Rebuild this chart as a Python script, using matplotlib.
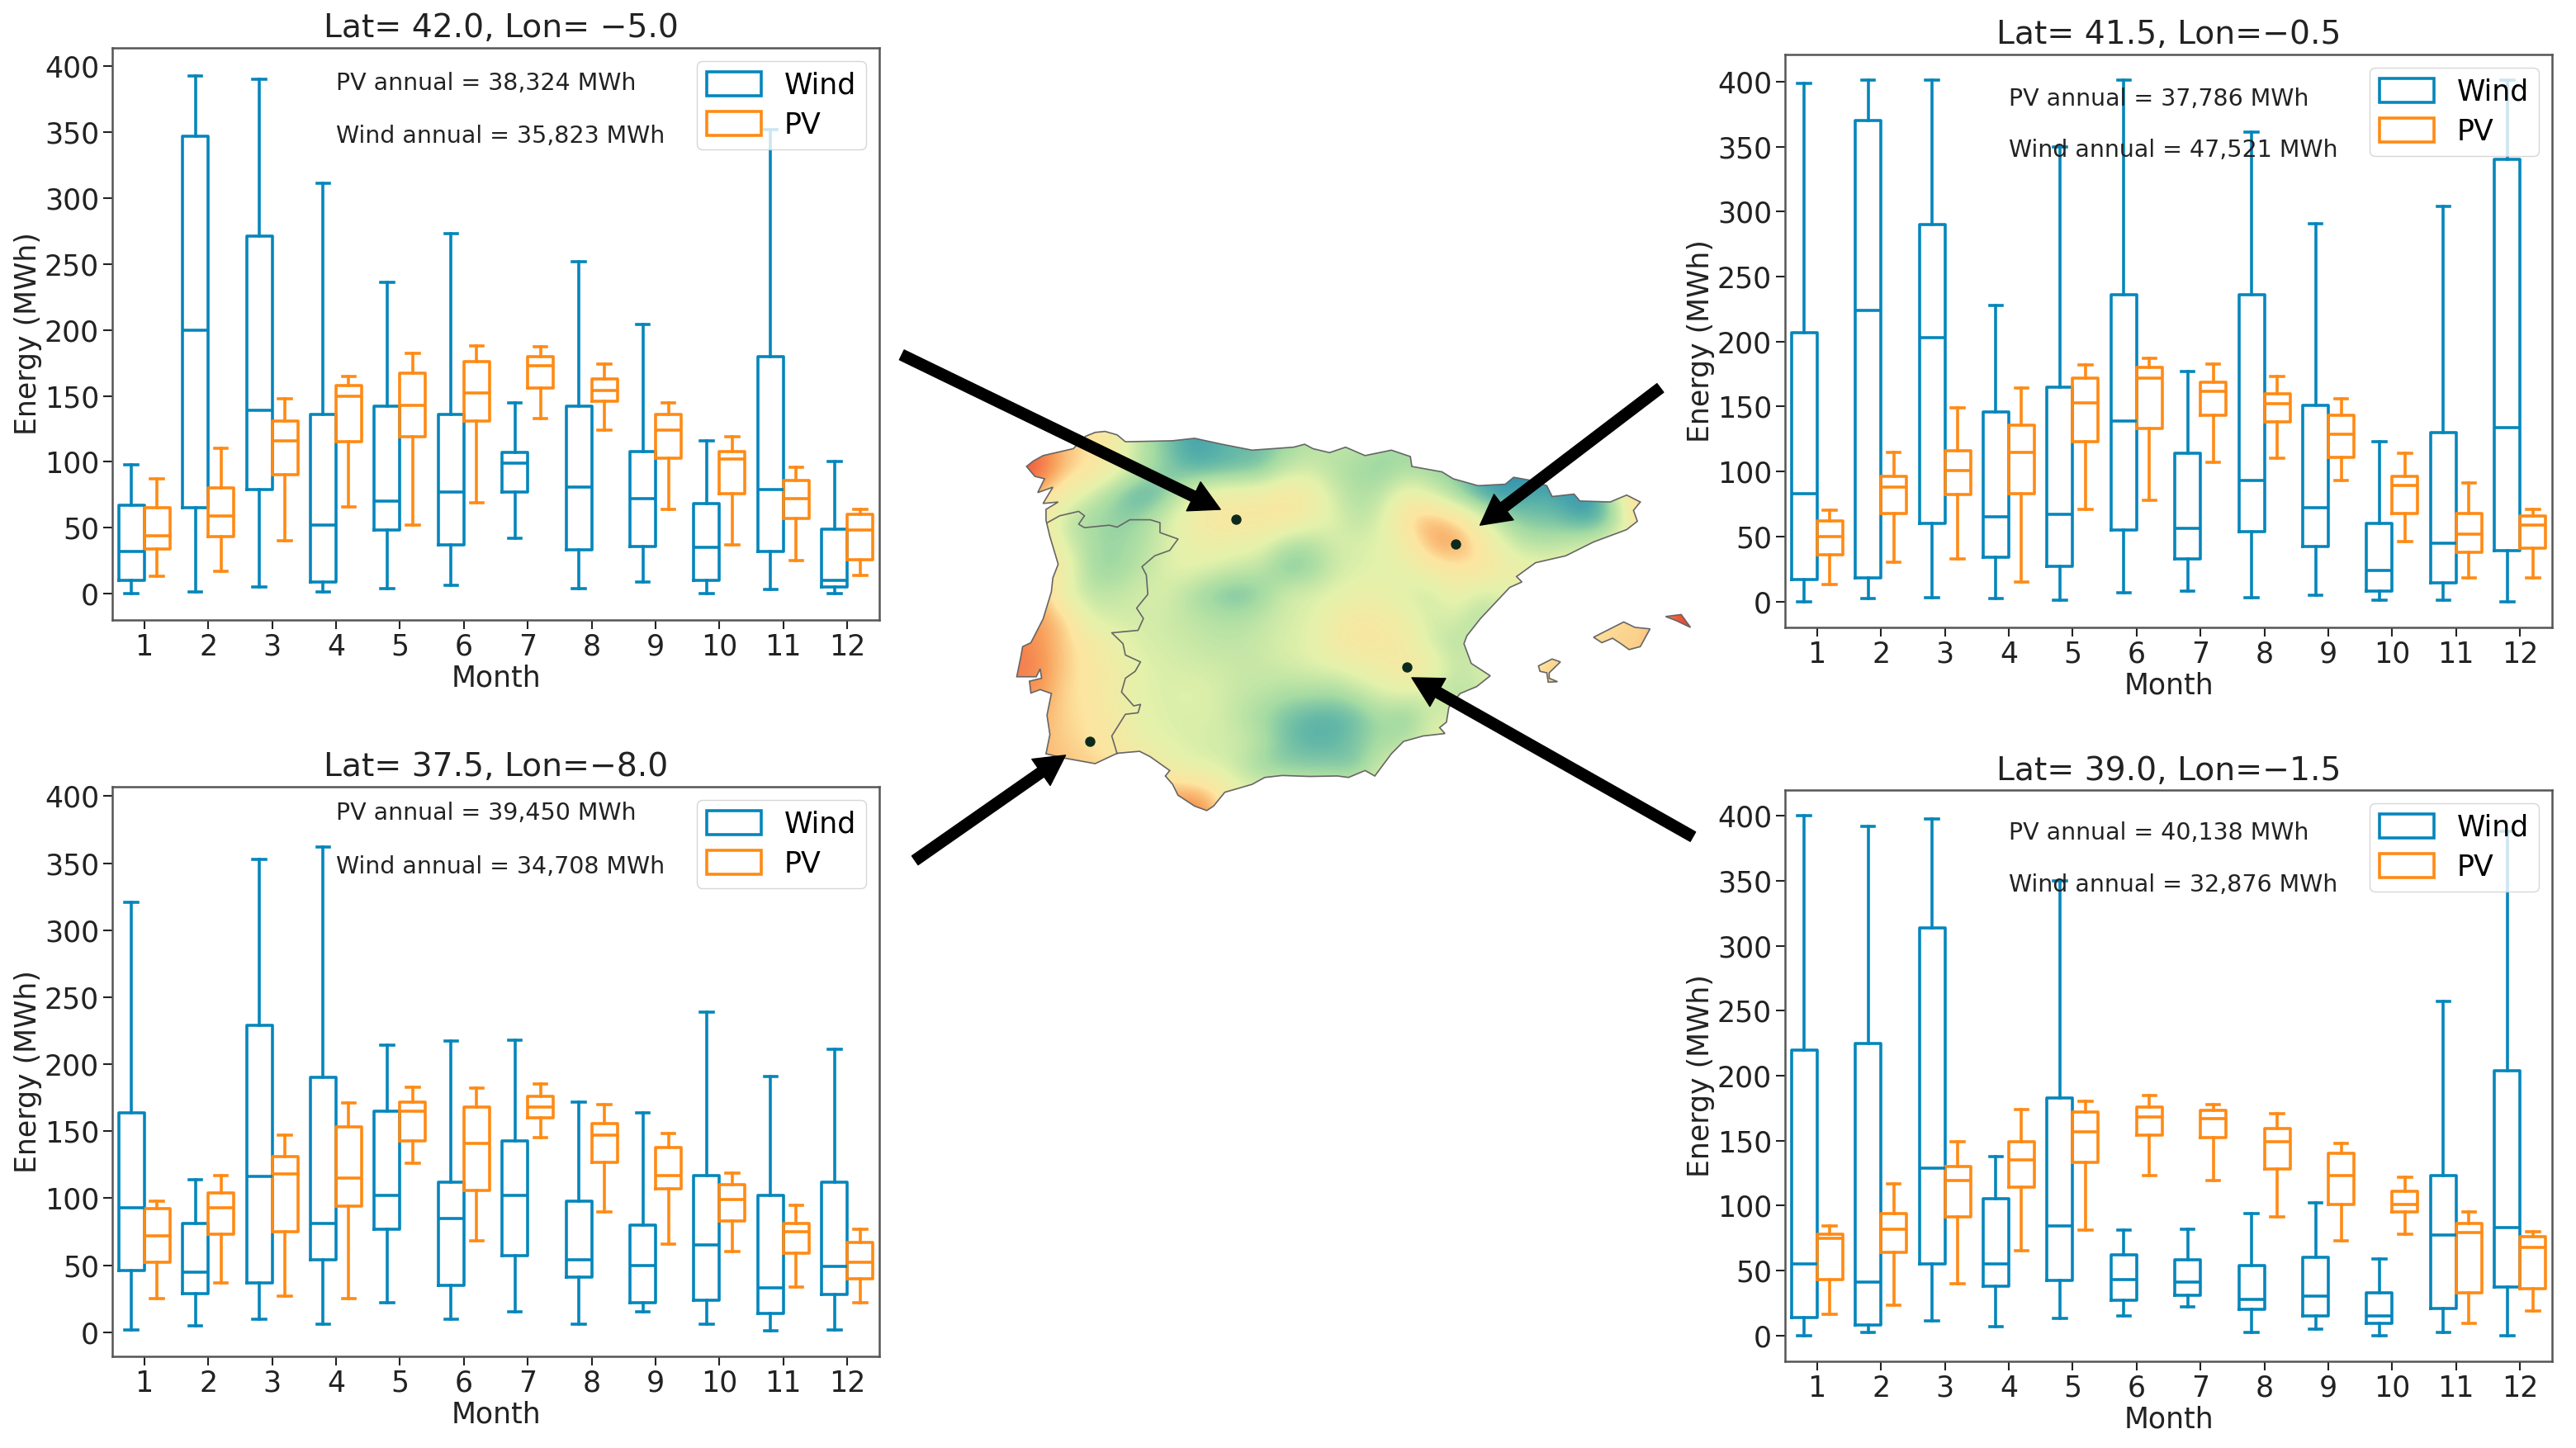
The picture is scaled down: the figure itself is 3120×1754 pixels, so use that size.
import matplotlib
matplotlib.use('Agg')
import matplotlib.pyplot as plt
import numpy as np
from matplotlib.colors import LinearSegmentedColormap
from matplotlib.path import Path
from matplotlib.patches import PathPatch, Patch

months = [1, 2, 3, 4, 5, 6, 7, 8, 9, 10, 11, 12]

# each row: low whisker, q1, median, q3, high whisker (MWh)
wind_nw = [[0, 10, 32, 67, 98], [1, 65, 200, 347, 393], [5, 79, 139, 271, 390], [1, 9, 52, 136, 311],
           [4, 48, 70, 142, 236], [6, 37, 77, 136, 273], [42, 77, 99, 107, 145], [4, 33, 81, 142, 252],
           [9, 36, 72, 108, 204], [0, 10, 35, 68, 116], [3, 32, 79, 180, 352], [0, 5, 10, 49, 100]]
pv_nw = [[13, 34, 44, 65, 87], [17, 43, 59, 80, 110], [40, 90, 116, 131, 148], [66, 115, 150, 158, 165],
         [52, 119, 143, 167, 182], [69, 131, 152, 176, 188], [133, 156, 173, 180, 187], [124, 146, 154, 163, 174],
         [64, 103, 124, 136, 145], [37, 76, 102, 108, 119], [25, 57, 72, 86, 96], [14, 26, 48, 60, 64]]

wind_ne = [[0, 17, 83, 207, 399], [2, 18, 224, 370, 401], [3, 60, 203, 290, 401], [2, 34, 65, 146, 228],
           [1, 27, 67, 165, 350], [7, 55, 139, 236, 401], [8, 33, 56, 114, 177], [3, 54, 93, 236, 361],
           [5, 42, 72, 151, 291], [1, 8, 24, 60, 123], [1, 14, 45, 130, 304], [0, 39, 134, 340, 401]]
pv_ne = [[13, 36, 50, 62, 70], [30, 68, 88, 96, 115], [33, 82, 101, 116, 149], [15, 83, 115, 136, 164],
         [71, 123, 153, 172, 182], [78, 133, 172, 180, 187], [107, 143, 162, 169, 183], [110, 138, 152, 160, 173],
         [93, 111, 129, 143, 156], [46, 68, 89, 96, 114], [18, 38, 52, 68, 91], [18, 41, 59, 66, 71]]

wind_sw = [[2, 46, 93, 164, 321], [5, 29, 45, 81, 114], [10, 37, 116, 229, 353], [6, 54, 81, 190, 362],
           [22, 77, 102, 165, 214], [10, 35, 85, 112, 217], [15, 57, 102, 143, 218], [6, 41, 54, 98, 172],
           [15, 22, 50, 80, 164], [6, 24, 65, 117, 239], [1, 14, 33, 102, 191], [2, 28, 49, 112, 211]]
pv_sw = [[25, 52, 72, 92, 98], [37, 73, 93, 104, 117], [27, 75, 118, 131, 147], [25, 94, 115, 153, 171],
         [126, 143, 165, 172, 183], [68, 106, 141, 168, 182], [145, 160, 168, 176, 185], [90, 127, 147, 156, 170],
         [66, 107, 117, 138, 148], [60, 83, 99, 110, 119], [34, 59, 75, 81, 95], [22, 40, 52, 67, 77]]

wind_se = [[0, 14, 55, 220, 400], [2, 8, 41, 225, 392], [11, 55, 129, 314, 398], [7, 38, 55, 105, 138],
           [13, 42, 84, 183, 350], [15, 27, 43, 62, 81], [22, 31, 41, 58, 82], [2, 20, 28, 54, 94],
           [5, 15, 30, 60, 102], [0, 9, 15, 33, 59], [2, 21, 77, 123, 257], [0, 37, 83, 204, 388]]
pv_se = [[16, 43, 75, 78, 84], [23, 64, 82, 94, 117], [40, 91, 119, 130, 149], [65, 114, 135, 149, 174],
         [81, 133, 157, 172, 180], [123, 154, 168, 176, 185], [119, 152, 167, 173, 178], [91, 128, 149, 159, 171],
         [73, 101, 123, 140, 148], [78, 95, 101, 111, 122], [9, 33, 79, 86, 95], [19, 36, 68, 76, 80]]

titles = ['Lat= 42.0, Lon= \u22125.0', 'Lat= 41.5, Lon=\u22120.5', 'Lat= 37.5, Lon=\u22128.0', 'Lat= 39.0, Lon=\u22121.5']
pv_notes = ['PV annual = 38,324 MWh', 'PV annual = 37,786 MWh', 'PV annual = 39,450 MWh', 'PV annual = 40,138 MWh']
wind_notes = ['Wind annual = 35,823 MWh', 'Wind annual = 47,521 MWh', 'Wind annual = 34,708 MWh', 'Wind annual = 32,876 MWh']

# map data: colour field, 0.5 degree steps (0-100 on the colour scale below)
field_lons = np.arange(-10, 5, 0.5)
field_lats = np.arange(44, 35.5, -0.5)
field = [
    [18, 18, 24, 36, 42, 48, 66, 75, 86, 84, 78, 78, 72, 68, 66, 66, 70, 72, 74, 80, 86, 90, 90, 90, 86, 84, 50, 30, 15, 13],
    [18, 18, 24, 36, 42, 48, 66, 76, 85, 84, 80, 80, 74, 68, 66, 66, 70, 72, 74, 80, 86, 90, 90, 90, 86, 84, 50, 30, 15, 13],
    [14, 14, 18, 36, 42, 52, 66, 74, 82, 82, 80, 78, 66, 62, 68, 72, 76, 70, 72, 76, 82, 88, 90, 90, 86, 84, 50, 30, 15, 13],
    [20, 20, 38, 50, 62, 74, 84, 80, 60, 52, 50, 50, 44, 48, 62, 70, 66, 52, 60, 72, 85, 88, 84, 84, 88, 84, 48, 26, 15, 13],
    [30, 30, 46, 66, 72, 75, 74, 62, 52, 44, 44, 44, 44, 52, 58, 68, 60, 40, 32, 40, 54, 72, 78, 78, 85, 84, 62, 28, 15, 13],
    [30, 30, 44, 60, 70, 74, 70, 62, 56, 52, 54, 56, 68, 70, 62, 60, 58, 50, 32, 28, 42, 58, 68, 68, 64, 60, 50, 40, 15, 13],
    [28, 28, 36, 50, 72, 74, 68, 60, 56, 60, 64, 66, 78, 76, 64, 60, 58, 56, 48, 44, 42, 50, 54, 54, 54, 50, 45, 40, 15, 13],
    [28, 28, 34, 58, 66, 66, 62, 60, 68, 76, 80, 76, 62, 60, 58, 54, 56, 60, 64, 52, 62, 60, 54, 50, 46, 42, 42, 42, 15, 13],
    [24, 24, 30, 38, 60, 62, 62, 62, 66, 68, 70, 66, 62, 60, 52, 46, 48, 52, 62, 60, 70, 62, 54, 46, 42, 42, 40, 40, 15, 13],
    [24, 24, 28, 38, 46, 54, 60, 62, 63, 66, 66, 64, 60, 58, 48, 44, 46, 48, 62, 68, 64, 56, 46, 42, 42, 40, 38, 38, 15, 13],
    [22, 22, 26, 38, 44, 50, 58, 60, 62, 62, 64, 64, 62, 60, 58, 54, 50, 46, 50, 64, 62, 56, 44, 38, 38, 38, 38, 38, 38, 38],
    [26, 26, 28, 40, 44, 50, 58, 60, 58, 60, 64, 66, 70, 70, 72, 66, 60, 56, 62, 70, 64, 56, 44, 36, 36, 36, 36, 36, 36, 36],
    [30, 30, 32, 40, 42, 48, 56, 60, 60, 60, 66, 72, 78, 82, 82, 80, 70, 78, 62, 60, 60, 56, 44, 36, 36, 36, 36, 36, 36, 36],
    [32, 32, 34, 38, 42, 46, 54, 58, 60, 62, 62, 68, 78, 82, 82, 76, 72, 68, 58, 56, 56, 56, 44, 36, 36, 36, 36, 36, 36, 36],
    [34, 34, 34, 36, 38, 40, 44, 50, 58, 60, 64, 74, 76, 76, 76, 78, 62, 58, 56, 56, 56, 56, 44, 36, 36, 36, 36, 36, 36, 36],
    [34, 34, 34, 36, 38, 38, 36, 36, 32, 38, 56, 58, 60, 62, 62, 60, 58, 56, 56, 56, 56, 56, 44, 36, 36, 36, 36, 36, 36, 36],
    [34, 34, 34, 36, 38, 38, 34, 30, 20, 30, 50, 56, 60, 62, 62, 60, 58, 56, 56, 56, 56, 56, 44, 36, 36, 36, 36, 36, 36, 36],
]

# outlines in lon, lat
iberia = [(-9.30, 43.07), (-9.16, 43.18), (-8.96, 43.29), (-8.34, 43.43), (-8.09, 43.68), (-7.89, 43.76), (-7.69, 43.78),
          (-7.44, 43.71), (-7.27, 43.57), (-6.31, 43.59), (-5.85, 43.64), (-5.29, 43.52), (-4.67, 43.40), (-3.82, 43.46),
          (-3.59, 43.52), (-3.42, 43.43), (-3.08, 43.35), (-2.75, 43.46), (-2.35, 43.29), (-1.81, 43.40), (-1.42, 43.27),
          (-1.39, 43.07), (-0.77, 42.96), (-0.54, 42.82), (-0.03, 42.68), (0.53, 42.71), (0.70, 42.85), (1.04, 42.79),
          (1.38, 42.68), (1.49, 42.46), (1.94, 42.51), (2.06, 42.37), (2.68, 42.35), (3.02, 42.49), (3.30, 42.35),
          (3.16, 42.18), (3.24, 41.96), (3.02, 41.79), (2.34, 41.54), (1.77, 41.26), (1.15, 41.12), (0.76, 40.84),
          (0.87, 40.73), (0.62, 40.62), (0.02, 39.99), (-0.26, 39.64), (-0.32, 39.48), (-0.17, 39.08), (0.22, 38.83),
          (-0.06, 38.61), (-0.40, 38.47), (-0.63, 38.19), (-0.68, 37.89), (-0.82, 37.78), (-0.71, 37.66), (-1.16, 37.61),
          (-1.56, 37.50), (-1.81, 37.25), (-2.15, 36.80), (-2.35, 36.91), (-2.69, 36.77), (-2.92, 36.80), (-3.48, 36.79),
          (-4.05, 36.81), (-4.41, 36.77), (-4.67, 36.63), (-5.23, 36.47), (-5.46, 36.19), (-5.60, 36.10), (-5.85, 36.19),
          (-6.19, 36.41), (-6.30, 36.63), (-6.45, 36.80), (-6.36, 36.91), (-6.76, 37.19), (-6.98, 37.30), (-7.44, 37.26),
          (-7.89, 37.05), (-8.51, 37.16), (-8.90, 37.25), (-8.82, 37.64), (-8.88, 38.03), (-8.79, 38.47), (-9.02, 38.55),
          (-9.21, 38.48), (-9.24, 38.72), (-8.99, 38.78), (-9.02, 38.97), (-9.10, 38.81), (-9.50, 38.81), (-9.41, 39.25),
          (-9.38, 39.42), (-9.21, 39.50), (-8.96, 39.98), (-8.79, 40.53), (-8.76, 40.81), (-8.65, 41.09), (-8.82, 41.65),
          (-8.90, 41.98), (-8.90, 42.20), (-8.65, 42.35), (-8.96, 42.32), (-8.76, 42.65), (-9.07, 42.54), (-8.93, 42.82),
          (-9.13, 42.87)]
mallorca = [(2.34, 39.61), (2.96, 39.92), (3.19, 39.81), (3.50, 39.78), (3.30, 39.42), (3.07, 39.36), (2.90, 39.48),
            (2.73, 39.59), (2.51, 39.50)]
menorca = [(3.82, 40.03), (4.14, 40.07), (4.33, 39.81), (4.03, 39.95)]
ibiza = [(1.21, 39.03), (1.49, 39.17), (1.66, 39.11), (1.43, 38.89), (1.43, 38.78), (1.60, 38.71), (1.41, 38.70),
         (1.38, 38.89), (1.24, 38.92)]
border = [(-8.875, 41.93), (-8.62, 42.07), (-8.23, 42.16), (-8.11, 42.07), (-8.23, 41.90), (-8.11, 41.83), (-7.60, 41.88),
          (-7.44, 41.84), (-7.18, 41.99), (-6.76, 41.99), (-6.56, 41.93), (-6.56, 41.73), (-6.19, 41.60), (-6.36, 41.37),
          (-6.67, 41.26), (-6.93, 41.04), (-6.84, 40.87), (-6.81, 40.48), (-7.04, 40.20), (-6.90, 39.99), (-7.01, 39.75),
          (-7.55, 39.70), (-7.32, 39.48), (-7.27, 39.25), (-6.96, 39.11), (-7.07, 38.92), (-7.27, 38.78), (-7.35, 38.50),
          (-7.10, 38.22), (-6.96, 38.25), (-7.01, 38.08), (-7.27, 38.05), (-7.55, 37.61), (-7.44, 37.25)]

site_lons = [-5.0, -0.5, -8.0, -1.5]
site_lats = [42.0, 41.5, 37.5, 39.0]
# arrows: (tail lon, tail lat, tip lon, tip lat)
arrows = [(-11.86, 45.33, -5.32, 42.2), (3.71, 44.66, 0.01, 41.88), (-11.59, 35.09, -8.5, 37.22), (4.38, 35.57, -1.39, 38.79)]

fig_w, fig_h = 3120, 1754
wind_color = '#0586bb'
pv_color = '#ff8a14'
dark = '#222222'
# like Spectral but without the white band in the middle
map_cmap = LinearSegmentedColormap.from_list('iberia', [(0, '#c81e28'), (0.13, '#e8432e'), (0.22, '#f4774a'), (0.3, '#f8a25c'),
                                                        (0.42, '#fde5a0'), (0.58, '#e4f2ab'), (0.72, '#a5dba3'),
                                                        (0.82, '#5bb3a8'), (0.9, '#2a8cb3'), (1, '#2a6cb3')])


def axes_from_px(left, top, right, bottom):
    return fig.add_axes([left / fig_w, 1 - bottom / fig_h, (right - left) / fig_w, (bottom - top) / fig_h])


def draw_boxes(ax, rows, offset, color):
    stats = [dict(whislo=r[0], q1=r[1], med=r[2], q3=r[3], whishi=r[4], fliers=[]) for r in rows]
    style = dict(color=color, linewidth=2.6)
    ax.bxp(stats, positions=[m + offset for m in months], widths=0.4, showfliers=False, manage_ticks=False,
           boxprops=style, medianprops=style, whiskerprops=style, capprops=style)


fig = plt.figure(figsize=(31.2, 17.54), dpi=100)

panels = [(136, 58, 1065, 751, wind_nw, pv_nw, (-20, 414), 0.507),
          (2162, 66, 3091, 760, wind_ne, pv_ne, (-20, 421), 0.5),
          (136, 953, 1065, 1643, wind_sw, pv_sw, (-18, 407), 0.5),
          (2162, 957, 3091, 1649, wind_se, pv_se, (-20, 420), 0.5)]

for i, (left, top, right, bottom, wind, pv, ylim, title_x) in enumerate(panels):
    ax = axes_from_px(left, top, right, bottom)
    draw_boxes(ax, wind, -0.2, wind_color)
    draw_boxes(ax, pv, 0.2, pv_color)
    ax.set_xlim(0.5, 12.5)
    ax.set_ylim(*ylim)
    ax.set_xticks(months)
    ax.set_yticks(range(0, 401, 50))
    ax.tick_params(labelsize=25, length=8, width=1.5, colors=dark)
    for s in ax.spines.values():
        s.set_color('#555555')
        s.set_linewidth(1.8)
    ax.set_title(titles[i], fontsize=28.3, color=dark, pad=9, x=title_x)
    ax.set_xlabel('Month', fontsize=25, color=dark, labelpad=2.5)
    ax.set_ylabel('Energy (MWh)', fontsize=25, color=dark, labelpad=2)
    ax.text(4.0, 387, pv_notes[i], fontsize=20.5, va='center', color=dark, zorder=6)
    ax.text(4.0, 347, wind_notes[i], fontsize=20.5, va='center', color=dark, zorder=6)
    handles = [Patch(facecolor='none', edgecolor=wind_color, linewidth=2.6, label='Wind'),
               Patch(facecolor='none', edgecolor=pv_color, linewidth=2.6, label='PV')]
    ax.legend(handles=handles, loc='upper right', bbox_to_anchor=(1 - 16 / 929, 1 - 16 / 693), borderaxespad=0,
              fontsize=25, handlelength=1.9, handleheight=0.9, borderpad=0.35, labelspacing=0.42)

# map axes: plate carree, 59 px per degree lon, 59.8 px per degree lat
map_ax = axes_from_px(1080, 400, 2060, 1080)
map_ax.axis('off')
map_ax.patch.set_alpha(0)

half = 0.25
img = map_ax.imshow(field, cmap=map_cmap, vmin=0, vmax=100, interpolation='bicubic', aspect='auto',
                    extent=[field_lons[0] - half, field_lons[-1] + half, field_lats[-1] - half, field_lats[0] + half])
map_ax.set_xlim(-5 + (1080 - 1497) / 59, -5 + (2060 - 1497) / 59)
map_ax.set_ylim(42 - (1080 - 629) / 59.8, 42 - (400 - 629) / 59.8)

land = Path.make_compound_path(*[Path(np.array(shape + shape[:1]), closed=True) for shape in [iberia, mallorca, menorca, ibiza]])
clip = PathPatch(land, transform=map_ax.transData, facecolor='none', edgecolor='#666666', linewidth=1.2)
map_ax.add_patch(clip)
img.set_clip_path(clip)
map_ax.plot(*zip(*border), color='#666666', linewidth=1.2)
map_ax.scatter(site_lons, site_lats, s=63, color='#0c2a1c', zorder=4)

for x0, y0, x1, y1 in arrows:
    map_ax.annotate('', xy=(x1, y1), xytext=(x0, y0), annotation_clip=False,
                    arrowprops=dict(facecolor='black', edgecolor='black', width=9.5, headwidth=28, headlength=26, shrink=0))

fig.savefig('out.png', dpi=100)
